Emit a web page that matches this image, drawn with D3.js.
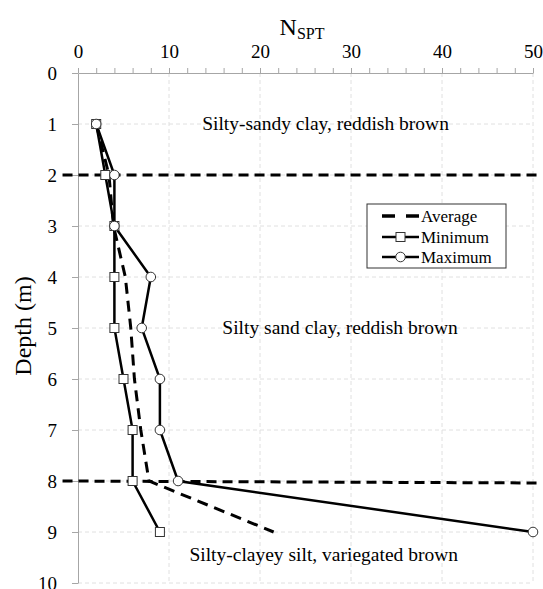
<!DOCTYPE html>
<html>
<head>
<meta charset="utf-8">
<title>NSPT vs depth</title>
<style>
  body { margin: 0; background: #fff; }
  svg text { font-family: "Liberation Serif", "Times New Roman", "DejaVu Serif", serif !important; fill: #000; }
  .grid line { stroke: #e0e0e0; stroke-dasharray: 4,3; }
  .axis path, .axis line { stroke: #a6a6a6; }
  .axis text { font-size: 19px; }
</style>
</head>
<body>
<svg width="543" height="589"></svg>
<script src="https://cdn.jsdelivr.net/npm/d3@7"></script>
<script>
const depths = [1, 2, 3, 4, 5, 6, 7, 8, 9];
const avgN = [2, 3.4, 3.9, 5.2, 5.8, 6.2, 6.9, 7.8, 21.5];
const minN = [2, 3, 4, 4, 4, 5, 6, 6, 9];
const maxN = [2, 4, 4, 8, 7, 9, 9, 11, 50];
const xTicks = [0, 10, 20, 30, 40, 50];
const yTicks = [0, 1, 2, 3, 4, 5, 6, 7, 8, 9, 10];
const layerBounds = [2, 8];
const layerNames = [
  {text: "Silty-sandy clay, reddish brown", n: 27.2, d: 1},
  {text: "Silty sand clay, reddish brown", n: 28.8, d: 5},
  {text: "Silty-clayey silt, variegated brown", n: 27, d: 9.45}
];

const svg = d3.select("svg");
const x = d3.scaleLinear().domain([0, 50]).range([78, 533]);
const y = d3.scaleLinear().domain([0, 10]).range([73, 583]);

// gridlines
svg.append("g").attr("class", "grid")
  .selectAll("line").data(yTicks.slice(1)).enter().append("line")
  .attr("x1", x(0)).attr("x2", x(50))
  .attr("y1", d => y(d)).attr("y2", d => y(d));
svg.append("g").attr("class", "grid")
  .selectAll("line").data(xTicks.slice(1)).enter().append("line")
  .attr("x1", d => x(d)).attr("x2", d => x(d))
  .attr("y1", y(0)).attr("y2", y(10));

// axes
svg.append("g").attr("class", "axis")
  .attr("transform", `translate(0,${y(0)})`)
  .call(d3.axisTop(x).tickValues(d3.range(0, 51, 2)).tickSize(5)
    .tickFormat(d => xTicks.includes(d) ? d : "").tickPadding(10).tickSizeOuter(0));
svg.append("g").attr("class", "axis")
  .attr("transform", `translate(${x(0)},0)`)
  .call(d3.axisLeft(y).tickValues(yTicks).tickSize(6).tickPadding(15).tickSizeOuter(0));

// axis titles
const t = svg.append("text").attr("x", 302).attr("y", 35)
  .attr("text-anchor", "middle").style("font-size", "24px");
t.append("tspan").text("N");
t.append("tspan").attr("dy", 4).style("font-size", "16px").text("SPT");
svg.append("text").attr("transform", "translate(31,326) rotate(-90)")
  .attr("text-anchor", "middle").style("font-size", "24px").text("Depth (m)");

// layer boundaries
svg.selectAll(".bound").data(layerBounds).enter().append("line")
  .attr("x1", x(-1.7)).attr("x2", x(51))
  .attr("y1", d => y(d)).attr("y2", (d, i) => y(d) + (i ? 2 : 0))
  .attr("stroke", "#000").attr("stroke-width", 3).attr("stroke-dasharray", "10,6");

// layer descriptions
svg.selectAll(".layer").data(layerNames).enter().append("text")
  .attr("x", d => x(d.n)).attr("y", d => y(d.d) + 6)
  .attr("text-anchor", "middle").style("font-size", "19.5px").text(d => d.text);

const line = d3.line().x(d => x(d[0])).y(d => y(d[1]));
const pts = arr => arr.map((v, i) => [v, depths[i]]);

svg.append("path").datum(pts(minN)).attr("d", line)
  .attr("fill", "none").attr("stroke", "#000").attr("stroke-width", 2.5);
svg.append("path").datum(pts(maxN)).attr("d", line)
  .attr("fill", "none").attr("stroke", "#000").attr("stroke-width", 2.5);
svg.append("path").datum(pts(avgN)).attr("d", line)
  .attr("fill", "none").attr("stroke", "#000").attr("stroke-width", 3)
  .attr("stroke-dasharray", "11,7");

svg.selectAll(".sq").data(pts(minN)).enter().append("rect")
  .attr("x", d => x(d[0]) - 4.5).attr("y", d => y(d[1]) - 4.5)
  .attr("width", 9).attr("height", 9)
  .attr("fill", "#fff").attr("stroke", "#333").attr("stroke-width", 1);
svg.selectAll(".ci").data(pts(maxN)).enter().append("circle")
  .attr("cx", d => x(d[0])).attr("cy", d => y(d[1])).attr("r", 4.8)
  .attr("fill", "#fff").attr("stroke", "#333").attr("stroke-width", 1);

// legend
const lg = svg.append("g");
lg.append("rect").attr("x", 367).attr("y", 204).attr("width", 139).attr("height", 64)
  .attr("fill", "#fff").attr("stroke", "#333").attr("stroke-width", 1);
const items = ["Average", "Minimum", "Maximum"];
const ly = [216, 237, 257];
items.forEach((name, i) => {
  const g = lg.append("g").attr("transform", `translate(0,${ly[i]})`);
  g.append("line").attr("x1", 382).attr("x2", 419).attr("y1", 0).attr("y2", 0)
    .attr("stroke", "#000").attr("stroke-width", i ? 2.5 : 3.5)
    .attr("stroke-dasharray", i ? null : "13,11");
  if (i === 1) g.append("rect").attr("x", 396).attr("y", -4.5).attr("width", 9).attr("height", 9)
    .attr("fill", "#fff").attr("stroke", "#333");
  if (i === 2) g.append("circle").attr("cx", 400.5).attr("cy", 0).attr("r", 4.8)
    .attr("fill", "#fff").attr("stroke", "#333");
  g.append("text").attr("x", 421).attr("y", 6).style("font-size", "17px").text(name);
});
</script>
</body>
</html>
